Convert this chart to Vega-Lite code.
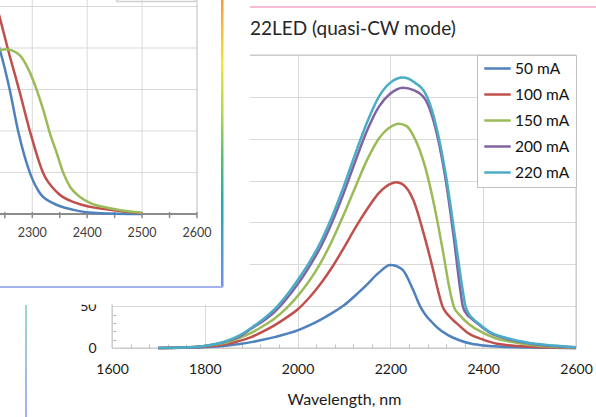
{
"$schema":"https://vega.github.io/schema/vega-lite/v6.json",
"width":464,"height":293,
"autosize":{"type":"none"},
"padding":{"left":112,"top":55,"right":20,"bottom":69},
"background":"white",
"config":{
 "view":{"stroke":null},
 "font":"Lato",
 "axis":{"labelFont":"Lato","titleFont":"Lato","labelColor":"#1a1a1a","titleColor":"#1a1a1a","titleFontWeight":"normal","gridColor":"#d9d9d9","gridWidth":1,"tickColor":"#bfbfbf","tickWidth":1,"labelOverlap":false,"labelFlush":false},
 "legend":{"labelFont":"Lato"}
},
"datasets":{
 "main":[
  {"w":1700,"v":0,"c":"50 mA"},{"w":1750,"v":0.2,"c":"50 mA"},{"w":1800,"v":1,"c":"50 mA"},{"w":1850,"v":3,"c":"50 mA"},{"w":1875,"v":4.8,"c":"50 mA"},{"w":1900,"v":7,"c":"50 mA"},{"w":1925,"v":9.8,"c":"50 mA"},{"w":1950,"v":13,"c":"50 mA"},{"w":2000,"v":21,"c":"50 mA"},{"w":2025,"v":27,"c":"50 mA"},{"w":2050,"v":34,"c":"50 mA"},{"w":2075,"v":42,"c":"50 mA"},{"w":2100,"v":51,"c":"50 mA"},{"w":2125,"v":63,"c":"50 mA"},{"w":2150,"v":76,"c":"50 mA"},{"w":2175,"v":90,"c":"50 mA"},{"w":2200,"v":99,"c":"50 mA"},{"w":2225,"v":94,"c":"50 mA"},{"w":2250,"v":68,"c":"50 mA"},{"w":2264,"v":50,"c":"50 mA"},{"w":2275,"v":40,"c":"50 mA"},{"w":2292,"v":29.5,"c":"50 mA"},{"w":2300,"v":25,"c":"50 mA"},{"w":2325,"v":15,"c":"50 mA"},{"w":2350,"v":9,"c":"50 mA"},{"w":2375,"v":5,"c":"50 mA"},{"w":2400,"v":3,"c":"50 mA"},{"w":2425,"v":2,"c":"50 mA"},{"w":2450,"v":1.2,"c":"50 mA"},{"w":2500,"v":0.5,"c":"50 mA"},{"w":2550,"v":0.2,"c":"50 mA"},{"w":2600,"v":0,"c":"50 mA"},
  {"w":1700,"v":0,"c":"100 mA"},{"w":1750,"v":0.3,"c":"100 mA"},{"w":1800,"v":1.5,"c":"100 mA"},{"w":1850,"v":5,"c":"100 mA"},{"w":1875,"v":8.5,"c":"100 mA"},{"w":1900,"v":13,"c":"100 mA"},{"w":1925,"v":19.5,"c":"100 mA"},{"w":1950,"v":27,"c":"100 mA"},{"w":1975,"v":36,"c":"100 mA"},{"w":2000,"v":46,"c":"100 mA"},{"w":2025,"v":60,"c":"100 mA"},{"w":2050,"v":77,"c":"100 mA"},{"w":2075,"v":97,"c":"100 mA"},{"w":2100,"v":120,"c":"100 mA"},{"w":2125,"v":144,"c":"100 mA"},{"w":2150,"v":166,"c":"100 mA"},{"w":2175,"v":185,"c":"100 mA"},{"w":2200,"v":196,"c":"100 mA"},{"w":2212,"v":198,"c":"100 mA"},{"w":2225,"v":196,"c":"100 mA"},{"w":2250,"v":176,"c":"100 mA"},{"w":2275,"v":130,"c":"100 mA"},{"w":2290,"v":98,"c":"100 mA"},{"w":2303,"v":68,"c":"100 mA"},{"w":2312,"v":50,"c":"100 mA"},{"w":2325,"v":39,"c":"100 mA"},{"w":2343,"v":29.5,"c":"100 mA"},{"w":2367,"v":18,"c":"100 mA"},{"w":2400,"v":10,"c":"100 mA"},{"w":2430,"v":5,"c":"100 mA"},{"w":2450,"v":3.5,"c":"100 mA"},{"w":2500,"v":1.5,"c":"100 mA"},{"w":2550,"v":0.5,"c":"100 mA"},{"w":2600,"v":0,"c":"100 mA"},
  {"w":1700,"v":0,"c":"150 mA"},{"w":1750,"v":0.5,"c":"150 mA"},{"w":1800,"v":2.5,"c":"150 mA"},{"w":1850,"v":7,"c":"150 mA"},{"w":1875,"v":12,"c":"150 mA"},{"w":1900,"v":18,"c":"150 mA"},{"w":1925,"v":26,"c":"150 mA"},{"w":1950,"v":35,"c":"150 mA"},{"w":1975,"v":47,"c":"150 mA"},{"w":2000,"v":62,"c":"150 mA"},{"w":2025,"v":80,"c":"150 mA"},{"w":2050,"v":102,"c":"150 mA"},{"w":2075,"v":129,"c":"150 mA"},{"w":2100,"v":160,"c":"150 mA"},{"w":2125,"v":193,"c":"150 mA"},{"w":2150,"v":225,"c":"150 mA"},{"w":2175,"v":250,"c":"150 mA"},{"w":2200,"v":264,"c":"150 mA"},{"w":2218,"v":268,"c":"150 mA"},{"w":2235,"v":265,"c":"150 mA"},{"w":2250,"v":253,"c":"150 mA"},{"w":2275,"v":216,"c":"150 mA"},{"w":2300,"v":155,"c":"150 mA"},{"w":2315,"v":110,"c":"150 mA"},{"w":2327,"v":72,"c":"150 mA"},{"w":2337,"v":49,"c":"150 mA"},{"w":2350,"v":39,"c":"150 mA"},{"w":2367,"v":29.5,"c":"150 mA"},{"w":2400,"v":18,"c":"150 mA"},{"w":2425,"v":12,"c":"150 mA"},{"w":2450,"v":8.5,"c":"150 mA"},{"w":2500,"v":4,"c":"150 mA"},{"w":2550,"v":1.5,"c":"150 mA"},{"w":2600,"v":0.5,"c":"150 mA"},
  {"w":1700,"v":0,"c":"200 mA"},{"w":1750,"v":0.5,"c":"200 mA"},{"w":1800,"v":2.5,"c":"200 mA"},{"w":1850,"v":8.5,"c":"200 mA"},{"w":1875,"v":14,"c":"200 mA"},{"w":1900,"v":23,"c":"200 mA"},{"w":1925,"v":32,"c":"200 mA"},{"w":1950,"v":43,"c":"200 mA"},{"w":1975,"v":58,"c":"200 mA"},{"w":2000,"v":76,"c":"200 mA"},{"w":2025,"v":97,"c":"200 mA"},{"w":2050,"v":121,"c":"200 mA"},{"w":2075,"v":151,"c":"200 mA"},{"w":2100,"v":186,"c":"200 mA"},{"w":2125,"v":224,"c":"200 mA"},{"w":2150,"v":260,"c":"200 mA"},{"w":2175,"v":288,"c":"200 mA"},{"w":2200,"v":304,"c":"200 mA"},{"w":2227,"v":311,"c":"200 mA"},{"w":2250,"v":308,"c":"200 mA"},{"w":2275,"v":297,"c":"200 mA"},{"w":2300,"v":256,"c":"200 mA"},{"w":2320,"v":198,"c":"200 mA"},{"w":2337,"v":130,"c":"200 mA"},{"w":2350,"v":72,"c":"200 mA"},{"w":2356,"v":50,"c":"200 mA"},{"w":2365,"v":40,"c":"200 mA"},{"w":2375,"v":35,"c":"200 mA"},{"w":2393,"v":27,"c":"200 mA"},{"w":2415,"v":18,"c":"200 mA"},{"w":2450,"v":11,"c":"200 mA"},{"w":2500,"v":5.5,"c":"200 mA"},{"w":2550,"v":2.5,"c":"200 mA"},{"w":2600,"v":1,"c":"200 mA"},
  {"w":1700,"v":0,"c":"220 mA"},{"w":1750,"v":0.5,"c":"220 mA"},{"w":1800,"v":2.5,"c":"220 mA"},{"w":1825,"v":5,"c":"220 mA"},{"w":1850,"v":9,"c":"220 mA"},{"w":1875,"v":15,"c":"220 mA"},{"w":1900,"v":24,"c":"220 mA"},{"w":1925,"v":34,"c":"220 mA"},{"w":1950,"v":46,"c":"220 mA"},{"w":1975,"v":62,"c":"220 mA"},{"w":2000,"v":81,"c":"220 mA"},{"w":2025,"v":102,"c":"220 mA"},{"w":2050,"v":127,"c":"220 mA"},{"w":2075,"v":158,"c":"220 mA"},{"w":2100,"v":194,"c":"220 mA"},{"w":2125,"v":233,"c":"220 mA"},{"w":2150,"v":270,"c":"220 mA"},{"w":2175,"v":300,"c":"220 mA"},{"w":2200,"v":317,"c":"220 mA"},{"w":2227,"v":323,"c":"220 mA"},{"w":2250,"v":318,"c":"220 mA"},{"w":2279,"v":300,"c":"220 mA"},{"w":2300,"v":262,"c":"220 mA"},{"w":2320,"v":205,"c":"220 mA"},{"w":2340,"v":130,"c":"220 mA"},{"w":2355,"v":72,"c":"220 mA"},{"w":2361,"v":52,"c":"220 mA"},{"w":2370,"v":40,"c":"220 mA"},{"w":2380,"v":34,"c":"220 mA"},{"w":2393,"v":28,"c":"220 mA"},{"w":2415,"v":19,"c":"220 mA"},{"w":2450,"v":12,"c":"220 mA"},{"w":2500,"v":6,"c":"220 mA"},{"w":2550,"v":3,"c":"220 mA"},{"w":2600,"v":1,"c":"220 mA"}
 ],
 "inset":[
  {"w":2220,"v":4.75,"s":"A"},{"w":2241,"v":3.95,"s":"A"},{"w":2250,"v":3.5,"s":"A"},{"w":2259,"v":2.99,"s":"A"},{"w":2274.5,"v":1.98,"s":"A"},{"w":2296,"v":0.98,"s":"A"},{"w":2314,"v":0.5,"s":"A"},{"w":2338,"v":0.26,"s":"A"},{"w":2375,"v":0.1,"s":"A"},{"w":2423,"v":0.02,"s":"A"},{"w":2500,"v":0,"s":"A"},
  {"w":2220,"v":5.7,"s":"B"},{"w":2241,"v":4.72,"s":"B"},{"w":2256,"v":3.95,"s":"B"},{"w":2276,"v":2.99,"s":"B"},{"w":2296,"v":1.98,"s":"B"},{"w":2320,"v":0.98,"s":"B"},{"w":2347,"v":0.5,"s":"B"},{"w":2381,"v":0.26,"s":"B"},{"w":2441,"v":0.1,"s":"B"},{"w":2500,"v":0.02,"s":"B"},
  {"w":2200,"v":3.7,"s":"C"},{"w":2220,"v":3.88,"s":"C"},{"w":2241,"v":3.95,"s":"C"},{"w":2253,"v":3.97,"s":"C"},{"w":2265,"v":3.93,"s":"C"},{"w":2277,"v":3.83,"s":"C"},{"w":2295,"v":3.43,"s":"C"},{"w":2308,"v":2.99,"s":"C"},{"w":2320,"v":2.51,"s":"C"},{"w":2332,"v":1.95,"s":"C"},{"w":2344.5,"v":1.47,"s":"C"},{"w":2356.5,"v":0.99,"s":"C"},{"w":2369,"v":0.65,"s":"C"},{"w":2387,"v":0.41,"s":"C"},{"w":2405,"v":0.27,"s":"C"},{"w":2441,"v":0.14,"s":"C"},{"w":2470,"v":0.07,"s":"C"},{"w":2500,"v":0.03,"s":"C"}
 ]
},
"layer":[
 {"layer":[
  {"data":{"values":[{}]},
   "mark":{"type":"rect","fill":"transparent","stroke":"#c4c4c4","strokeWidth":1},
   "encoding":{
    "x":{"datum":1600,"type":"quantitative","scale":{"domain":[1600,2600],"nice":false,"zero":false},
     "axis":{"orient":"bottom","values":[1640,1680,1720,1760,1840,1880,1920,1960,2040,2080,2120,2160,2240,2280,2320,2360,2440,2480,2520,2560],
      "labels":false,"grid":false,"ticks":true,"domain":false,"offset":-4,"tickSize":4,"title":null}},
    "x2":{"datum":2600},
    "y":{"datum":0,"type":"quantitative","scale":{"domain":[0,350],"nice":false,"zero":false},
     "axis":{"orient":"left","values":[10,20,30,40,60,70,80,90,110,120,130,140,160,170,180,190,210,220,230,240,260,270,280,290,310,320,330,340],
      "labels":false,"grid":false,"ticks":true,"domain":false,"offset":-4,"tickSize":4,"title":null}},
    "y2":{"datum":350}}},
  {"data":{"name":"main"},
   "mark":{"type":"line","strokeWidth":2.5,"interpolate":"monotone"},
   "encoding":{
    "x":{"field":"w","type":"quantitative","scale":{"domain":[1600,2600],"nice":false,"zero":false},
     "axis":{"orient":"bottom","values":[1600,1800,2000,2200,2400,2600],"format":"d","labelOverlap":false,"labelFlush":false,
      "grid":true,"ticks":false,"domain":false,"labelPadding":14,"labelFontSize":14,
      "title":"Wavelength, nm","titleFontSize":16,"titlePadding":15}},
    "y":{"field":"v","type":"quantitative","scale":{"domain":[0,350],"nice":false,"zero":false},
     "axis":{"orient":"left","values":[0,50,100,150,200,250,300,350],"format":"d","labelExpr":"datum.value <= 50 ? datum.label : ''","labelOverlap":false,"labelFlush":false,
      "grid":true,"ticks":false,"domain":false,"labelPadding":16,"labelFontSize":14,"title":null}},
    "color":{"field":"c","type":"nominal",
     "scale":{"domain":["50 mA","100 mA","150 mA","200 mA","220 mA"],"range":["#4F81BD","#C0504D","#9BBB59","#8064A2","#4BACC6"]},
     "legend":{"title":null,"orient":"top-right","offset":0,"padding":6,"strokeColor":"#bfbfbf","fillColor":"white",
      "labelFontSize":15.5,"labelColor":"#111111","symbolType":"stroke","symbolSize":700,"symbolStrokeWidth":2.5,"clipHeight":15,"rowPadding":10,"labelOffset":3}}}},
  {"data":{"values":[{}]},
   "mark":{"type":"rule","stroke":"#f4a6c6","strokeWidth":1.5},
   "encoding":{
    "x":{"datum":1897.4,"type":"quantitative","scale":{"domain":[1600,2600],"nice":false,"zero":false},"axis":null},
    "x2":{"datum":2760},
    "y":{"datum":407.3,"type":"quantitative","scale":{"domain":[0,350],"nice":false,"zero":false},"axis":null}}},
  {"data":{"values":[{}]},
   "mark":{"type":"text","text":"22LED (quasi-CW mode)","align":"left","baseline":"alphabetic","fontSize":19,"font":"Lato","color":"#262626"},
   "encoding":{
    "x":{"datum":1897.4,"type":"quantitative","scale":{"domain":[1600,2600],"nice":false,"zero":false},"axis":null},
    "y":{"datum":373.9,"type":"quantitative","scale":{"domain":[0,350],"nice":false,"zero":false},"axis":null}}}
 ],
 "resolve":{"axis":{"x":"independent","y":"independent"}}},
 {"layer":[
  {"data":{"values":[{}]},
   "mark":{"type":"rect","fill":"white"},
   "encoding":{
    "x":{"datum":2100,"type":"quantitative","scale":{"domain":[2445.2,3290.4],"nice":false,"zero":false},"axis":null},
    "x2":{"datum":2696.5},
    "y":{"datum":6.5,"type":"quantitative","scale":{"domain":[-3.229,3.831],"nice":false,"zero":false},"axis":null},
    "y2":{"datum":-2.18}}},
  {"data":{"values":[{}]},
   "mark":{"type":"rect","fill":"white","stroke":"#cfcfcf","strokeWidth":1.5},
   "encoding":{
    "x":{"datum":2454.3,"type":"quantitative","scale":{"domain":[2445.2,3290.4],"nice":false,"zero":false},"axis":null},
    "x2":{"datum":2596.4},
    "y":{"datum":6.5,"type":"quantitative","scale":{"domain":[-3.229,3.831],"nice":false,"zero":false},"axis":null},
    "y2":{"datum":5.12}}},
  {"data":{"values":[{"g":1},{"g":2},{"g":3},{"g":4},{"g":5}]},
   "mark":{"type":"rule","stroke":"#d9d9d9","strokeWidth":1},
   "encoding":{
    "x":{"datum":2150,"type":"quantitative","scale":{"domain":[2445.2,3290.4],"nice":false,"zero":false},"axis":null},
    "x2":{"datum":2600},
    "y":{"field":"g","type":"quantitative","scale":{"domain":[-3.229,3.831],"nice":false,"zero":false},"axis":null}}},
  {"data":{"values":[{"g":2300},{"g":2400},{"g":2500}]},
   "mark":{"type":"rule","stroke":"#d9d9d9","strokeWidth":1},
   "encoding":{
    "x":{"field":"g","type":"quantitative","scale":{"domain":[2445.2,3290.4],"nice":false,"zero":false},"axis":null},
    "y":{"datum":0,"type":"quantitative","scale":{"domain":[-3.229,3.831],"nice":false,"zero":false},"axis":null},
    "y2":{"datum":7}}},
  {"data":{"values":[{}]},
   "mark":{"type":"rule","stroke":"#bdbdbd","strokeWidth":1},
   "encoding":{
    "x":{"datum":2600,"type":"quantitative","scale":{"domain":[2445.2,3290.4],"nice":false,"zero":false},"axis":null},
    "y":{"datum":0,"type":"quantitative","scale":{"domain":[-3.229,3.831],"nice":false,"zero":false},"axis":null},
    "y2":{"datum":7}}},
  {"data":{"values":[{"g":2250},{"g":2300},{"g":2350},{"g":2400},{"g":2450},{"g":2500},{"g":2550},{"g":2600}]},
   "mark":{"type":"rule","stroke":"#8c8c8c","strokeWidth":1.5},
   "encoding":{
    "x":{"field":"g","type":"quantitative","scale":{"domain":[2445.2,3290.4],"nice":false,"zero":false},"axis":null},
    "y":{"datum":0.05,"type":"quantitative","scale":{"domain":[-3.229,3.831],"nice":false,"zero":false},"axis":null},
    "y2":{"datum":-0.1}}},
  {"data":{"values":[{}]},
   "mark":{"type":"rule","stroke":"#8c8c8c","strokeWidth":2},
   "encoding":{
    "x":{"datum":2150,"type":"quantitative","scale":{"domain":[2445.2,3290.4],"nice":false,"zero":false},"axis":null},
    "x2":{"datum":2600},
    "y":{"datum":0,"type":"quantitative","scale":{"domain":[-3.229,3.831],"nice":false,"zero":false},"axis":null}}},
  {"data":{"name":"inset"},
   "mark":{"type":"line","strokeWidth":2.5,"interpolate":"monotone"},
   "encoding":{
    "x":{"field":"w","type":"quantitative","scale":{"domain":[2445.2,3290.4],"nice":false,"zero":false},"axis":null},
    "y":{"field":"v","type":"quantitative","scale":{"domain":[-3.229,3.831],"nice":false,"zero":false},"axis":null},
    "color":{"field":"s","type":"nominal","scale":{"domain":["A","B","C"],"range":["#4F81BD","#C0504D","#9BBB59"]},"legend":null}}},
  {"data":{"values":[{"t":2300},{"t":2400},{"t":2500},{"t":2600}]},
   "mark":{"type":"text","fontSize":12.5,"font":"Lato","color":"#404040","baseline":"middle","dy":19},
   "encoding":{
    "x":{"field":"t","type":"quantitative","scale":{"domain":[2445.2,3290.4],"nice":false,"zero":false},"axis":null},
    "y":{"datum":0,"type":"quantitative","scale":{"domain":[-3.229,3.831],"nice":false,"zero":false},"axis":null},
    "text":{"field":"t","type":"quantitative","format":"d"}}},
  {"data":{"values":[{}]},
   "mark":{"type":"rect","fill":{"gradient":"linear","x1":0,"y1":0,"x2":0,"y2":1,"stops":[{"offset":0,"color":"#f59a3a"},{"offset":0.22,"color":"#f3e634"},{"offset":0.4,"color":"#a8d84a"},{"offset":0.55,"color":"#52c070"},{"offset":0.72,"color":"#22a8b2"},{"offset":1,"color":"#7090f0"}]}},
   "encoding":{
    "x":{"datum":2643.7,"type":"quantitative","scale":{"domain":[2445.2,3290.4],"nice":false,"zero":false},"axis":null},
    "x2":{"datum":2648.3},
    "y":{"datum":5.16,"type":"quantitative","scale":{"domain":[-3.229,3.831],"nice":false,"zero":false},"axis":null},
    "y2":{"datum":-1.759}}},
  {"data":{"values":[{}]},
   "mark":{"type":"rule","stroke":"#a3b3ef","strokeWidth":2},
   "encoding":{
    "x":{"datum":2150,"type":"quantitative","scale":{"domain":[2445.2,3290.4],"nice":false,"zero":false},"axis":null},
    "x2":{"datum":2647},
    "y":{"datum":-1.759,"type":"quantitative","scale":{"domain":[-3.229,3.831],"nice":false,"zero":false},"axis":null}}},
  {"data":{"values":[{}]},
   "mark":{"type":"rect","fill":{"gradient":"linear","x1":0,"y1":0,"x2":0,"y2":1,"stops":[{"offset":0,"color":"#9ad8c4"},{"offset":1,"color":"#a4acf6"}]}},
   "encoding":{
    "x":{"datum":2286.7,"type":"quantitative","scale":{"domain":[2445.2,3290.4],"nice":false,"zero":false},"axis":null},
    "x2":{"datum":2290.3},
    "y":{"datum":-2.193,"type":"quantitative","scale":{"domain":[-3.229,3.831],"nice":false,"zero":false},"axis":null},
    "y2":{"datum":-4.9}}}
 ]}
],
"resolve":{"scale":{"x":"independent","y":"independent","color":"independent"}}
}
